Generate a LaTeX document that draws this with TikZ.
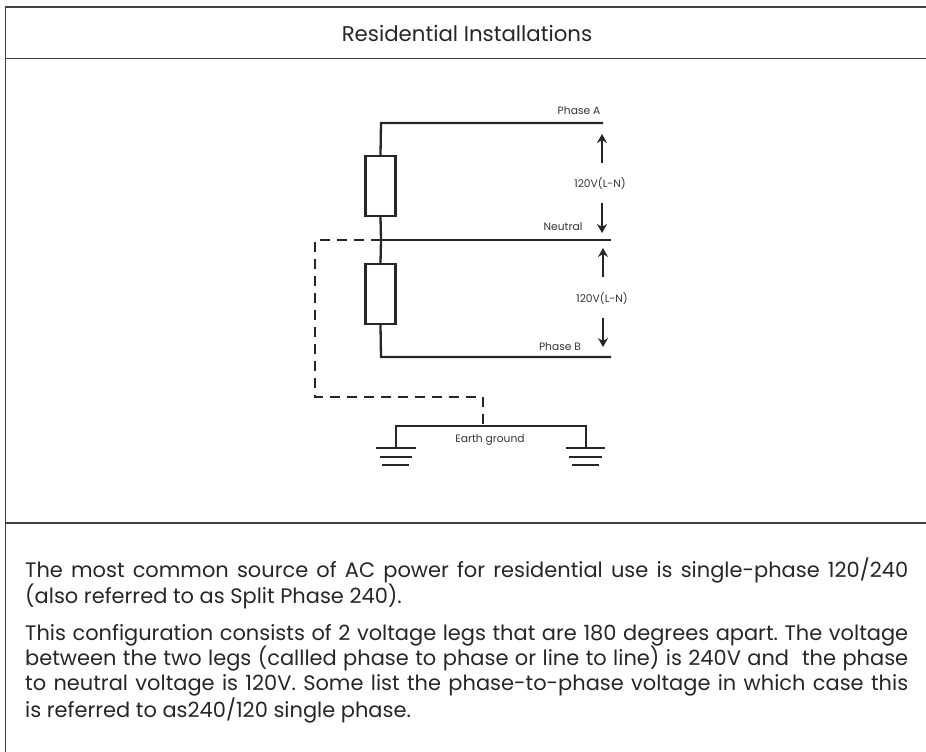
\documentclass[tikz,border=0pt]{standalone}
\usepackage{fontspec}
\setmainfont{Poppins}
\usetikzlibrary{arrows.meta,positioning}
\begin{document}
\begin{tikzpicture}[x=1pt,y=-1pt]
    \tikzstyle{frameline}=[draw=black!75, line width=1.2pt]
    \tikzstyle{wire}=[draw=black!85, line width=2.3pt]
    \tikzstyle{gndwire}=[draw=black!85, line width=2pt]
    \tikzstyle{earthwire}=[draw=black!85, line width=2.5pt, dash pattern=on 10pt off 7pt]
    \tikzstyle{load}=[draw=black!85, line width=2.3pt, fill=white, minimum width=30pt, minimum height=60pt, inner sep=0pt]
    \tikzstyle{connect}=[-{Stealth[length=9pt,width=10pt,inset=3pt]}, line width=2.4pt, draw=black!85]
    \tikzstyle{tag}=[font=\fontsize{10.7}{12}\selectfont, text=black!80, inner sep=0pt]
    \tikzstyle{para}=[font=\fontsize{20.95}{25.3}\selectfont\frenchspacing\sloppy, text=black!85, inner sep=0pt, anchor=north west, text width=883pt, align=justify]
    \useasboundingbox (0,0) rectangle (926,752);
    % frame
    \draw[frameline] (5.5,752) -- (5.5,7) -- (926,7);
    \draw[frameline] (5.5,58.5) -- (926,58.5);
    \draw[frameline] (5.5,523) -- (926,523);
    \node[font=\fontsize{21.3}{24}\selectfont, text=black!85, inner sep=0pt] (title) at (467,33) {Residential Installations};
    % circuit
    \coordinate (a1) at (381,123);
    \coordinate (a2) at (603,123);
    \coordinate (n1) at (381,240);
    \coordinate (n2) at (611,240);
    \coordinate (b1) at (381,357);
    \coordinate (b2) at (611,357);
    \node[load] (r1) at (380.5,186) {};
    \node[load] (r2) at (380.5,294) {};
    \draw[wire] (a2) -- (a1) -- (r1.north);
    \draw[wire] (r1.south) -- (n1) -- (r2.north);
    \draw[wire] (n1) -- (n2);
    \draw[wire] (r2.south) -- (b1) -- (b2);
    % earth
    \coordinate (e1) at (315,240);
    \coordinate (e2) at (315,397);
    \coordinate (e3) at (483,397);
    \coordinate (e4) at (483,426);
    \coordinate (gl) at (396,426);
    \coordinate (gr) at (586,426);
    \draw[earthwire] (n1) -- (e1) -- (e2) -- (e3) -- (e4);
    \draw[gndwire] (396,448) -- (gl) -- (gr) -- (586,448);
    \draw[gndwire] (376,448) -- (416,448);
    \draw[gndwire] (380,457) -- (412,457);
    \draw[gndwire] (382,465) -- (409,465);
    \draw[gndwire] (566,448) -- (605,448);
    \draw[gndwire] (569,457) -- (602,457);
    \draw[gndwire] (572,465) -- (599,465);
    % arrows
    \coordinate (u1a) at (602,163);
    \coordinate (u1b) at (602,134);
    \coordinate (d1a) at (602,203);
    \coordinate (d1b) at (602,233);
    \coordinate (u2a) at (603,277);
    \coordinate (u2b) at (603,248);
    \coordinate (d2a) at (603,318);
    \coordinate (d2b) at (603,347);
    \path (u1a) edge [connect] (u1b)
    (d1a) edge [connect] (d1b)
    (u2a) edge [connect] (u2b)
    (d2a) edge [connect] (d2b);
    % labels
    \node[tag] (pa) at (579,111) {Phase A};
    \node[tag] (v1) at (600,183) {120V(L-N)};
    \node[tag] (neutral) at (563,227) {Neutral};
    \node[tag] (v2) at (602,298) {120V(L-N)};
    \node[tag] (pb) at (560,347) {Phase B};
    \node[tag] (earth) at (490,440) {Earth ground};
    % text
    \node[para] (p1) at (25,558) {The most common source of AC power for residential use is single-phase 120/240 (also referred to as Split Phase 240).};
    \node[para] (p2) at (25,624) {This configuration consists of 2 voltage legs that are 180 degrees apart. The voltage between the two legs (callled phase to phase or line to line) is 240V and \ the phase to neutral voltage is 120V. Some list the phase-to-phase voltage in which case this\linebreak is referred to as240/120 single phase.};
\end{tikzpicture}
\end{document}
